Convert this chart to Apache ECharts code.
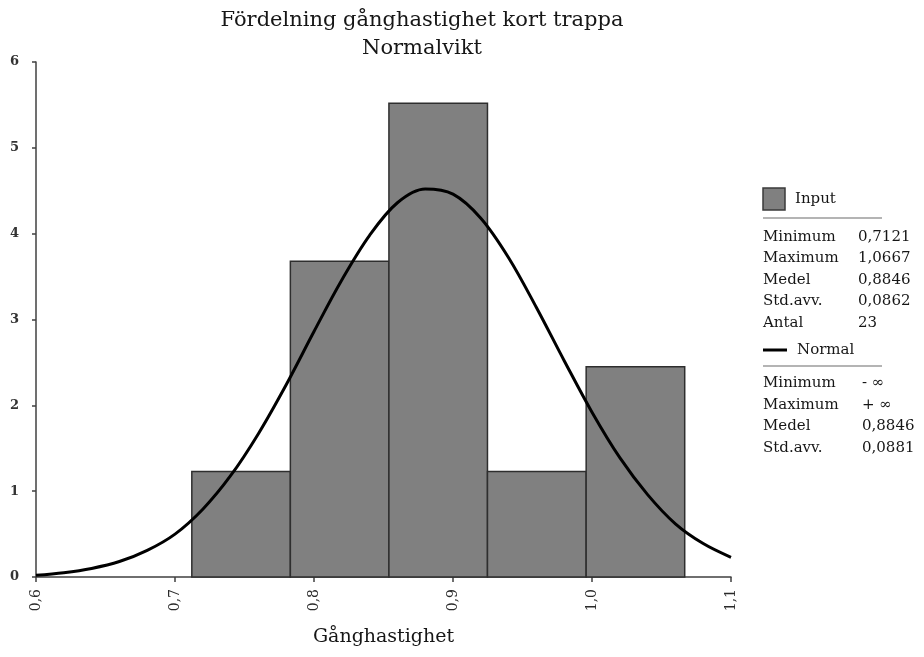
<!DOCTYPE html>
<html>
<head>
<meta charset="utf-8">
<script src="https://cdn.jsdelivr.net/npm/echarts@6/dist/echarts.min.js"></script>
<style>
  html, body { margin: 0; padding: 0; background: #fff; }
  #chart { width: 924px; height: 657px; }
</style>
</head>
<body>
<div id="chart"></div>
<script>
// Histogram bins (class edges) and density heights
const binEdges = [0.7121, 0.7830, 0.8539, 0.9248, 0.9958, 1.0667];
const binDensity = [1.23, 3.68, 5.52, 1.23, 2.45];

// Fitted normal curve, sampled every 0.02
const curveX = [0.60, 0.62, 0.64, 0.66, 0.68, 0.70, 0.72, 0.74, 0.76, 0.78, 0.80, 0.82, 0.84, 0.86, 0.88, 0.90, 0.92, 0.94, 0.96, 0.98, 1.00, 1.02, 1.04, 1.06, 1.08, 1.10];
const curveY = [0.02, 0.05, 0.10, 0.18, 0.31, 0.50, 0.79, 1.18, 1.67, 2.24, 2.86, 3.46, 3.98, 4.36, 4.52, 4.46, 4.18, 3.72, 3.14, 2.52, 1.92, 1.39, 0.96, 0.62, 0.39, 0.23];

// Stats panel texts
const inputLabel = 'Input';
const inputStatNames = ['Minimum', 'Maximum', 'Medel', 'Std.avv.', 'Antal'];
const inputStatValues = ['0,7121', '1,0667', '0,8846', '0,0862', '23'];
const normalLabel = 'Normal';
const normalStatNames = ['Minimum', 'Maximum', 'Medel', 'Std.avv.'];
const normalStatValues = ['- \u221e', '+ \u221e', '0,8846', '0,0881'];

const titleLines = ['Fördelning gånghastighet kort trappa', 'Normalvikt'];
const xName = 'Gånghastighet';

const FONT = 'DejaVu Serif';
const TXT = '#161616';
const chart = echarts.init(document.getElementById('chart'), null, { renderer: 'canvas' });

const barData = binDensity.map((d, i) => [binEdges[i], binEdges[i + 1], d]);
const lineData = curveX.map((x, i) => [x, curveY[i]]);

// Stats panel graphics
const panel = [];
const px = 763;
const pfont = '15px ' + FONT;
panel.push({ type: 'rect', shape: { x: px, y: 188, width: 22, height: 22 },
  style: { fill: '#808080', stroke: '#3a3a3a', lineWidth: 1.5 } });
panel.push({ type: 'text', x: 795, y: 199, style: { text: inputLabel, font: pfont, fill: TXT, textVerticalAlign: 'middle' } });
panel.push({ type: 'line', shape: { x1: px, y1: 218, x2: 882, y2: 218 }, style: { stroke: '#b4b4b4', lineWidth: 2 } });
inputStatNames.forEach((n, i) => {
  const y = 237 + i * 21.5;
  panel.push({ type: 'text', x: px, y: y, style: { text: n, font: pfont, fill: TXT, textVerticalAlign: 'middle' } });
  panel.push({ type: 'text', x: 858, y: y, style: { text: inputStatValues[i], font: pfont, fill: TXT, textVerticalAlign: 'middle' } });
});
panel.push({ type: 'line', shape: { x1: px, y1: 350, x2: 787, y2: 350 }, style: { stroke: '#000', lineWidth: 3 } });
panel.push({ type: 'text', x: 797, y: 350, style: { text: normalLabel, font: pfont, fill: TXT, textVerticalAlign: 'middle' } });
panel.push({ type: 'line', shape: { x1: px, y1: 366, x2: 882, y2: 366 }, style: { stroke: '#b4b4b4', lineWidth: 2 } });
normalStatNames.forEach((n, i) => {
  const y = 383 + i * 21.7;
  panel.push({ type: 'text', x: px, y: y, style: { text: n, font: pfont, fill: TXT, textVerticalAlign: 'middle' } });
  panel.push({ type: 'text', x: 862, y: y, style: { text: normalStatValues[i], font: pfont, fill: TXT, textVerticalAlign: 'middle' } });
});

chart.setOption({
  animation: false,
  backgroundColor: '#ffffff',
  title: {
    text: titleLines.join('\n'),
    left: 417,
    top: 2,
    textAlign: 'center',
    textStyle: { fontFamily: FONT, fontSize: 21, fontWeight: 'normal', color: TXT, lineHeight: 28 }
  },
  grid: { left: 36, right: 193, top: 62, bottom: 80, containLabel: false },
  xAxis: {
    type: 'value', min: 0.6, max: 1.1, interval: 0.1,
    name: xName, nameLocation: 'middle', nameGap: 51,
    nameTextStyle: { fontFamily: FONT, fontSize: 19, color: TXT },
    axisLine: { show: true, lineStyle: { color: '#404040', width: 1.5 } },
    axisTick: { show: true, length: 5, lineStyle: { color: '#404040', width: 1.5 } },
    axisLabel: {
      rotate: 90, margin: 12, fontFamily: FONT, fontSize: 14, color: '#2a2a2a',
      formatter: v => v.toFixed(1).replace('.', ',')
    },
    splitLine: { show: false }
  },
  yAxis: {
    type: 'value', min: 0, max: 6, interval: 1,
    axisLine: { show: true, lineStyle: { color: '#404040', width: 1.5 } },
    axisTick: { show: true, length: 4, lineStyle: { color: '#404040', width: 1.5 } },
    axisLabel: { margin: 17, fontFamily: FONT, fontSize: 13, fontWeight: 'bold', color: '#333' },
    splitLine: { show: false }
  },
  graphic: panel,
  series: [
    {
      type: 'custom',
      data: barData,
      encode: { x: [0, 1], y: 2 },
      renderItem: function (params, api) {
        const p0 = api.coord([api.value(0), 0]);
        const p1 = api.coord([api.value(1), api.value(2)]);
        return {
          type: 'rect',
          shape: { x: p0[0], y: p1[1], width: p1[0] - p0[0], height: p0[1] - p1[1] },
          style: { fill: '#808080', stroke: '#2e2e2e', lineWidth: 1.5 }
        };
      },
      z: 2
    },
    {
      type: 'line',
      data: lineData,
      smooth: 0.35,
      showSymbol: false,
      symbol: 'none',
      lineStyle: { color: '#000', width: 3 },
      z: 3
    }
  ]
});
</script>
</body>
</html>
